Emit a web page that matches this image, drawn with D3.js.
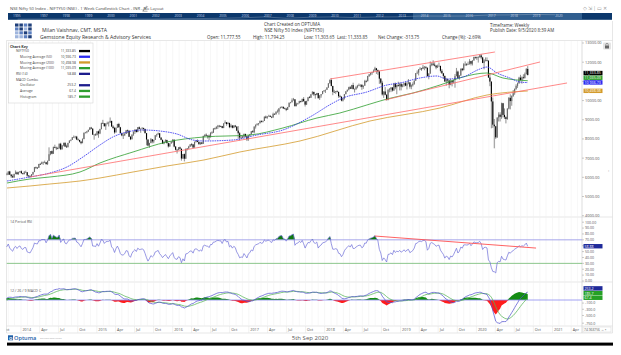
<!DOCTYPE html>
<html><head><meta charset="utf-8">
<script src="https://cdn.jsdelivr.net/npm/d3@7"></script>
<style>
html,body{margin:0;padding:0;background:#fff;}
svg{display:block;font-family:"Open Sans","Noto Sans",sans-serif;}
</style></head><body>
<svg id="c" width="621" height="355"></svg>
<script>
// ---------------- DATA ----------------
const lastWeek = "2020-09-04";
// weekly closes, Jun 2013 .. 4 Sep 2020 (open = previous close)
const closes = [
5881,5808,5667,5842,5868,6009,6029,5886,5677,5566,5508,5471,5472,5680,5851,5889,5833,5907,6096,6189,6145,6307,6141,6056,5996,6176,6260,6168,6274,6314,
6211,6171,6262,6266,6090,6063,6048,6155,6277,6527,6504,6494,6696,6695,6776,6779,6782,6694,6859,7203,7367,7230,7583,7542,7511,7509,7751,7459,7664,7790,7602,7568,7792,7913,7954,8087,8105,8121,7969,7945,7860,7780,7991,8322,8337,8390,8477,8588,8538,8224,8225,8200,
8395,8285,8513,8836,8809,8661,8805,8834,8844,8938,8647,8571,8342,8586,8780,8607,8305,8182,8191,8263,8458,8434,8114,7982,8225,8381,8485,8361,8610,8522,8533,8565,8518,8300,7971,7655,7789,7982,7868,7951,8190,8238,8295,8066,7955,7762,7857,7943,7782,7610,7762,7861,
7963,7601,7438,7423,7564,7489,6981,7211,6971,7486,7511,7605,7716,7714,7555,7851,7899,7850,7733,7815,7750,8157,8221,8171,8170,8089,8328,8324,8542,8541,8639,8684,8672,8667,8573,8810,8867,8780,8832,8612,8698,8584,8694,8639,8434,8297,8075,8114,8087,8262,8140,7986,8186,
8244,8400,8349,8641,8741,8794,8822,8940,8898,8935,9160,9108,9174,9198,9150,9119,9304,9285,9401,9428,9595,9653,9669,9588,9575,9521,9665,9886,9915,10015,10066,9711,9837,9858,9975,9935,10086,9964,9789,9980,10167,10147,10323,10452,10322,10284,10390,10122,10266,10333,10493,10531,
10559,10682,10895,11070,10761,10455,10452,10491,10458,10227,10195,9998,10114,10332,10481,10565,10692,10618,10807,10597,10605,10697,10768,10818,10822,10714,10773,11019,11010,11278,11361,11430,11471,11557,11681,11590,11515,11143,10930,10316,10473,10303,10030,10553,10585,10682,10527,10877,10694,10805,10754,10860,
10727,10795,10907,10780,10894,10944,10724,10792,10864,11035,11427,11457,11624,11666,11643,11753,11755,11712,11279,11407,11844,11923,11871,11823,11724,11789,11811,11552,11419,11284,10997,11110,11048,10829,11023,10947,11076,11274,11512,11175,11305,11662,11584,11891,11908,11895,11914,12056,11922,12087,12272,12246,
12227,12257,12352,12248,11962,12098,12113,12081,11202,10989,9955,8745,8660,8084,9112,9267,9154,9860,9252,9137,9039,9580,10142,9973,10244,10383,10608,10768,10902,11194,11073,11214,11178,11372,11648,11334
];
const highs = [
5960,5930,5880,5860,5920,6020,6093,6040,5890,5700,5620,5520,5500,5700,5880,6142,5930,5950,6110,6210,6250,6310,6340,6170,6150,6190,6360,6300,6290,6330,
6358,6230,6330,6350,6270,6120,6110,6170,6290,6540,6560,6520,6700,6750,6820,6820,6870,6800,6870,7563,7370,7400,7600,7700,7600,7590,7760,7800,7680,7810,7840,7700,7800,7930,7970,8100,8180,8160,8160,8030,7960,7890,8030,8330,8370,8420,8480,8620,8630,8550,8260,8290,
8410,8440,8530,8840,8996,8830,8820,8900,8900,9119,8950,8720,8630,8600,8790,8840,8630,8330,8290,8350,8470,8490,8440,8150,8240,8390,8500,8490,8620,8650,8550,8620,8590,8540,8310,7980,7800,8050,7990,7960,8200,8270,8336,8300,8100,7960,7880,7980,7960,7800,7770,7880,
7990,7970,7630,7480,7570,7600,7500,7220,7240,7500,7530,7640,7730,7780,7740,7860,7940,7980,7860,7830,7840,8170,8230,8290,8190,8230,8340,8400,8560,8590,8650,8730,8730,8700,8680,8820,8968,8880,8890,8850,8790,8720,8720,8730,8670,8670,8360,8180,8150,8280,8270,8150,8190,
8260,8410,8460,8660,8750,8810,8830,8960,8960,8960,9170,9220,9190,9260,9250,9180,9370,9340,9450,9530,9600,9680,9710,9700,9640,9620,9670,9900,9930,10115,10138,10070,9890,9880,9990,9990,10100,10180,9970,9990,10190,10240,10340,10490,10460,10350,10400,10400,10280,10340,10500,10540,
10570,10690,10910,11110,11171,10770,10560,10500,10530,10450,10300,10230,10130,10340,10490,10570,10720,10760,10820,10930,10630,10770,10820,10890,10840,10850,10790,11080,11080,11290,11390,11460,11490,11620,11760,11700,11620,11550,11170,11030,10480,10700,10330,10610,10650,10700,10700,10920,10940,10840,10980,10930,
10930,10870,10930,10990,10980,11120,10960,10840,10950,11060,11430,11570,11640,11740,11700,11856,11800,11790,11720,11430,12041,11970,12100,11990,11860,11870,11980,11800,11640,11440,11300,11180,11140,11070,11140,11070,11090,11380,11700,11560,11330,11670,11700,11950,12040,11950,12030,12160,12070,12100,12290,12290,
12290,12310,12390,12430,12280,12160,12250,12250,12090,11430,11000,10160,9040,8680,9130,9390,9390,9890,9880,9590,9180,9600,10180,10330,10270,10550,10630,10850,10940,11240,11340,11260,11370,11460,11690,11794
];
const lows = [
5860,5770,5566,5600,5780,5850,5960,5860,5640,5480,5480,5360,5120,5360,5650,5800,5760,5700,5880,6030,6100,6120,6120,5970,5980,5970,6160,6130,6130,6230,
6190,6140,6150,6240,6030,5990,5990,6040,6120,6270,6430,6430,6490,6650,6680,6650,6740,6650,6640,6850,7150,7200,7220,7520,7420,7460,7500,7420,7450,7620,7590,7540,7560,7780,7880,7950,8050,8020,7940,7920,7820,7720,7780,7990,8290,8290,8360,8460,8510,8210,7960,8170,
8190,8060,8250,8500,8780,8650,8470,8760,8650,8860,8630,8510,8270,8330,8580,8590,8290,8140,7997,8150,8260,8300,8100,7940,7980,8160,8260,8330,8350,8510,8320,8500,8400,8290,7667,7630,7540,7770,7770,7780,7950,8110,8220,8060,7930,7740,7720,7840,7770,7550,7590,7760,
7800,7560,7400,7240,7410,7440,6870,6960,6830,6960,7400,7470,7580,7620,7520,7550,7810,7830,7690,7690,7720,7740,8100,8150,8020,7930,8080,8290,8320,8490,8510,8520,8600,8620,8550,8560,8800,8690,8760,8560,8600,8550,8560,8600,8410,8010,7920,7990,8060,8080,8100,7890,7900,
8130,8230,8340,8290,8540,8700,8700,8800,8860,8860,8940,9060,9050,9180,9140,9080,9110,9270,9270,9370,9270,9590,9610,9570,9550,9450,9510,9650,9850,9900,10000,9685,9700,9780,9860,9890,9920,9960,9690,9770,9960,10120,10140,10320,10240,10100,10290,10110,10030,10150,10340,10440,
10400,10560,10660,10890,10740,10280,10390,10350,10420,10140,10150,9960,9950,10050,10330,10460,10530,10600,10600,10580,10420,10550,10640,10750,10700,10560,10610,10770,10940,11000,11230,11300,11340,11470,11560,11390,11340,10870,10850,10260,10140,10270,10000,10010,10430,10440,10470,10500,10590,10330,10730,10530,
10530,10690,10720,10750,10580,10850,10620,10590,10730,10820,11030,11380,11310,11590,11550,11640,11580,11650,11250,11110,11400,11790,11800,11780,11630,11700,11760,11460,11400,11150,10970,10780,10900,10640,10800,10740,10900,10670,11270,11160,11090,11290,11530,11580,11800,11800,11850,11870,11830,11830,12080,12180,
12120,11980,12240,12150,11950,11630,12040,12040,11180,10750,8555,8575,7511,8000,8050,8910,8910,9050,9120,9040,8810,9000,9540,9540,9730,10190,10300,10560,10660,10870,11030,10880,11110,11140,11370,11304
];

// moving averages
const ma50Dates = ["2013-10-26","2014-02-13","2014-05-20","2014-08-10","2014-10-26","2015-01-16","2015-03-19","2015-05-26","2015-08-11","2015-10-31","2016-01-21","2016-04-07","2016-05-30","2016-10-17","2017-02-09","2017-06-14","2017-10-22","2018-02-10","2018-03-30","2018-07-23","2018-10-28","2018-12-30","2019-04-04","2019-06-25","2019-08-12","2019-10-28","2020-01-18","2020-02-21","2020-04-09","2020-06-10","2020-07-28","2020-09-04"];
const ma50Values = [5809,6017,6226,6538,7059,7685,8102,8362,8466,8414,8258,7945,7893,7945,8206,8466,9144,9873,10134,10447,10811,10916,11176,11280,11120,11228,11645,11749,11437,11176,10968,10937];
const ma100Dates = ["2013-10-26","2014-02-13","2014-05-20","2014-10-12","2015-01-16","2015-06-24","2015-12-04","2016-05-30","2017-01-07","2017-06-14","2017-11-25","2018-03-15","2018-07-23","2018-10-28","2019-03-02","2019-07-10","2019-10-28","2020-02-21","2020-05-08","2020-09-04"];
const ma100Values = [5704,5913,6017,6278,6747,7320,7841,8102,8206,8571,9092,9352,9769,10082,10394,10811,11228,11437,11176,11035];
const ma200Dates = ["2013-10-26","2014-02-13","2014-05-20","2014-10-12","2015-01-16","2015-06-24","2015-12-04","2016-05-30","2016-11-19","2017-09-04","2018-08-07","2019-07-10","2020-02-21","2020-09-04"];
const ma200Values = [5444,5548,5652,5809,5965,6278,6590,6903,7320,7893,8935,9613,10290,10499];

// drawn trend lines
const trendDates = [["2014-02-13","2021-03-12"],["2018-10-18","2020-11-02"],["2018-01-27","2020-03-30"]];
const trendValues = [[6017,10916],[10030,12010],[11124,12531]];
const rsiTrendDates = ["2018-08-30","2020-10-14"];
const rsiTrendValues = [76.5,56];

// legend / header texts
const keyNames = ["NIFTY50","Moving Average (50)","Moving Average (200)","Moving Average (100)","RSI (14)","MACD Combo","Oscillator","Average","Histogram"];
const keyValues = ["11,333.85","10,936.73","10,498.98","11,035.09","58.88","","253.2","67.4","185.7"];
const keyNums = [11333.85,10936.73,10498.98,11035.09,58.88,null,253.2,67.4,185.7];
const stats = ["Open: 11,777.55","High: 11,794.25","Low: 11,303.65","Last: 11,333.85","Net Change: -313.75","Change (%): -2.69%"];
const priceTicks = [4000,5000,6000,7000,8000,9000,10000,11000,12000,13000];
const rsiTicks = [0,10,20,30,40,50,60,70,80,90,100];
const macdTicks = [-100,-300,-500,-750];
const navYears = [1995,1997,1998,1999,2000,2001,2002,2003,2004,2005,2006,2007,2008,2009,2010,2011,2012,2013,2014,2015,2016,2017,2018,2019,2020];
const navSeriesYears = [1996,1997,1998,1999,2000,2001,2002,2003,2004,2005,2006,2007,2008,2009,2010,2011,2012,2013,2014,2015,2016,2017,2018,2019,2020];
const navSeriesValues = [899,1079,884,1480,1263,1059,1093,1879,2080,2836,3966,6138,2959,5201,6134,4624,5905,6304,8282,7946,8186,10531,10863,12168,11334];

// ---------------- STYLE ----------------
const col = {blue:"#2b2bf0", green:"#2f9e2f", gold:"#d39b2c", red:"#ff6b6b", navy:"#1c1c8c",
  rsi:"#6d6dd8", ob:"#9b9be8", os:"#7fbf7f", macd:"#5656d2", sig:"#55b455", zero:"#8c8cf0",
  hpos:"#148c14", hneg:"#ff1c1c", txt:"#555"};
const keyColors = ["#000",col.blue,col.gold,col.green,col.navy,null,col.navy,col.green,col.green];
const keyLevel = [1,2,2,2,1,1,2,2,2];

const svg = d3.select("#c");
const parse = d3.utcParse("%Y-%m-%d");
const L = 6.5, R = 582;
const x = d3.scaleUtc().domain([Date.UTC(2013,9,21), Date.UTC(2021,4,23)]).range([6, R]);
const yP = d3.scaleLinear().domain([4000,13000]).range([215.7,43]);
const yR = d3.scaleLinear().domain([0,100]).range([281,222.2]);
const yM = d3.scaleLinear().domain([-750,0]).range([323.2,300]);

function txt(g, px, py, s, size, fill, anchor, weight){
  return g.append("text").attr("x",px).attr("y",py).text(s).attr("font-size",size)
    .attr("fill",fill||col.txt).attr("text-anchor",anchor||"start").attr("font-weight",weight||400);
}
const defs = svg.append("defs");
function clip(id, x0,y0,x1,y1){ defs.append("clipPath").attr("id",id).append("rect").attr("x",x0).attr("y",y0).attr("width",x1-x0).attr("height",y1-y0); }
clip("cm", L,40.5,R,217); clip("cr", L,217,R,282); clip("cd", L,282,R,326); clip("cx", L,326,R,333);

// ---------------- HEADER ----------------
txt(svg,10,10.2,"NSE Nifty 50 Index - NIFTY50 (NSE) - 1 Week Candlestick Chart - INR - No Layout",4.2,"#444");
svg.append("path").attr("d","M143,10.5 l1,-0.3 l3.5,-3.5 l-0.7,-0.7 l-3.5,3.5 z M142.5,11.2 h5").attr("stroke","#555").attr("stroke-width",0.5).attr("fill","none");
txt(svg,583,10,"◇  ⇲  |  ▭  ✕",4.5,"#999");
svg.append("rect").attr("x",8).attr("y",13).attr("width",604).attr("height",6.8).attr("fill","#0c386c");
svg.append("rect").attr("x",413).attr("y",13).attr("width",169).attr("height",6.8).attr("fill","#3a6899").attr("opacity",0.8);
const nx = yr => 40 + (yr-1997)*22.4;
navYears.forEach((yr,i)=>{ const px = i===0?13:nx(yr); txt(svg,px,16.7,String(yr),3.3,"#c9d6ea"); });
const navY = d3.scaleLinear().domain([0,13000]).range([19.5,14]);
svg.append("path").datum(navSeriesYears.map((yr,i)=>[nx(yr), navY(navSeriesValues[i])]))
  .attr("d",d3.line()).attr("fill","none").attr("stroke","rgba(255,255,255,0.45)").attr("stroke-width",0.5);

// logo
const logoC = ["#1f3f7a","#5b7fc0","#9fb5dd"];
const logoP = [[0,0,1,0],[1,0,2,0],[2,1,0,1],[2,2,1,0]];
logoP.forEach((row,r)=>row.forEach((k,cI)=>svg.append("rect").attr("x",15+cI*4.4).attr("y",23.5+r*3.9).attr("width",3.5).attr("height",3.1).attr("fill",logoC[k])));
txt(svg,42,32.2,"Milan Vaishnav, CMT, MSTA",5.1,"#333");
txt(svg,40,39.3,"Gemstone Equity Research & Advisory Services",5.1,"#333");
txt(svg,292,25.8,"Chart Created on OPTUMA",4.5,"#333","middle");
txt(svg,294,32,"NSE Nifty 50 Index (NIFTY50)",4.5,"#333","middle");
const statX = [207,253,304,337,378,442];
stats.forEach((s,i)=>txt(svg,statX[i],39.3,s,4.4,"#333"));
txt(svg,490,26.5,"Timeframe: Weekly",4.4,"#333");
txt(svg,490,32.3,"Publish Date: 9/5/2020 8:39 AM",4.4,"#333");

// ---------------- FRAME & GRID ----------------
const frame = svg.append("g").attr("stroke","#d6d6d6").attr("stroke-width",0.6);
[40.5,217,282,326,333].forEach(yy=>frame.append("line").attr("x1",L).attr("x2",612.5).attr("y1",yy).attr("y2",yy));
frame.append("line").attr("x1",L).attr("x2",L).attr("y1",40.5).attr("y2",333);
frame.append("line").attr("x1",612.5).attr("x2",612.5).attr("y1",21).attr("y2",333);
frame.append("line").attr("x1",R).attr("x2",R).attr("y1",40.5).attr("y2",333).attr("stroke","#c8c8c8");

const months = d3.utcMonth.range(x.domain()[0], x.domain()[1]);
const grid = svg.append("g").attr("stroke","#eeeeee").attr("stroke-width",0.5);
[[40.5,217],[217,282],[282,326]].forEach(([a,b])=>{
  grid.selectAll(null).data(months).join("line").attr("x1",d=>x(d)).attr("x2",d=>x(d)).attr("y1",a+0.5).attr("y2",b-0.5);
});

// ---------------- MAIN PANEL ----------------
const n = closes.length;
const endT = parse(lastWeek).getTime();
const dates = closes.map((_,i)=>new Date(endT-(n-1-i)*7*86400000));
const bars = closes.map((c,i)=>({d:dates[i], o:i?closes[i-1]:c, c, h:highs[i], l:lows[i]}));
const gm = svg.append("g").attr("clip-path","url(#cm)");
gm.selectAll("line.w").data(bars).join("line").attr("class","w")
  .attr("x1",d=>x(d.d)).attr("x2",d=>x(d.d)).attr("y1",d=>yP(d.h)).attr("y2",d=>yP(d.l))
  .attr("stroke","#333").attr("stroke-width",0.55);
gm.selectAll("rect.b").data(bars).join("rect").attr("class","b")
  .attr("x",d=>x(d.d)-0.55).attr("width",1.1)
  .attr("y",d=>yP(Math.max(d.o,d.c))).attr("height",d=>Math.max(0.6,Math.abs(yP(d.o)-yP(d.c))))
  .attr("fill",d=>d.c>=d.o?"#6a6a6a":"#000");

const lineF = d3.line().x(d=>x(d[0])).y(d=>yP(d[1])).curve(d3.curveMonotoneX);
function maLine(ds,vs,color,dash){
  gm.append("path").datum(ds.map((s,i)=>[parse(s),vs[i]])).attr("d",lineF)
    .attr("fill","none").attr("stroke",color).attr("stroke-width",0.8).attr("stroke-dasharray",dash||null);
}
maLine(ma200Dates,ma200Values,col.gold);
maLine(ma100Dates,ma100Values,col.green);
maLine(ma50Dates,ma50Values,col.blue,"1.6,0.8");
trendDates.forEach((td,i)=>{
  gm.append("line").attr("x1",x(parse(td[0]))).attr("y1",yP(trendValues[i][0]))
    .attr("x2",x(parse(td[1]))).attr("y2",yP(trendValues[i][1]))
    .attr("stroke",col.red).attr("stroke-width",0.8);
});

// ---------------- RSI PANEL ----------------
const rsi = new Array(n).fill(null);
{ let ag=0, al=0;
  for(let i=1;i<=14;i++){ const ch=closes[i]-closes[i-1]; if(ch>0) ag+=ch; else al-=ch; }
  ag/=14; al/=14; rsi[14]=100-100/(1+ag/al);
  for(let i=15;i<n;i++){ const ch=closes[i]-closes[i-1];
    ag=(ag*13+Math.max(ch,0))/14; al=(al*13+Math.max(-ch,0))/14;
    rsi[i]= al===0?100:100-100/(1+ag/al); } }
const rsiPts = rsi.map((v,i)=>({d:dates[i],v})).filter(p=>p.v!==null);
const gr = svg.append("g").attr("clip-path","url(#cr)");
gr.append("path").datum(rsiPts).attr("d",d3.area().x(p=>x(p.d)).y0(yR(70)).y1(p=>yR(Math.max(70,p.v))))
  .attr("fill","#0e7a0e");
gr.append("line").attr("x1",L).attr("x2",R).attr("y1",yR(70)).attr("y2",yR(70)).attr("stroke",col.ob).attr("stroke-width",0.9);
gr.append("line").attr("x1",L).attr("x2",R).attr("y1",yR(30)).attr("y2",yR(30)).attr("stroke",col.os).attr("stroke-width",0.9);
gr.append("path").datum(rsiPts).attr("d",d3.line().x(p=>x(p.d)).y(p=>yR(p.v)))
  .attr("fill","none").attr("stroke",col.rsi).attr("stroke-width",0.7);
gr.append("line").attr("x1",x(parse(rsiTrendDates[0]))).attr("y1",yR(rsiTrendValues[0]))
  .attr("x2",x(parse(rsiTrendDates[1]))).attr("y2",yR(rsiTrendValues[1])).attr("stroke","#ff5050").attr("stroke-width",0.9);
txt(svg,10,222.5,"14 Period RSI",3.6,"#555");

// ---------------- MACD PANEL ----------------
const ema=(arr,p)=>{const k=2/(p+1); const out=[]; arr.forEach((v,i)=>out.push(i?v*k+out[i-1]*(1-k):v)); return out;};
const e12=ema(closes,12), e26=ema(closes,26);
const macd=e12.map((v,i)=>v-e26[i]);
const sig=ema(macd,9);
const mPts = macd.map((v,i)=>({d:dates[i], m:v, s:sig[i], h:v-sig[i]}));
const gd = svg.append("g").attr("clip-path","url(#cd)");
gd.append("path").datum(mPts).attr("d",d3.area().x(p=>x(p.d)).y0(yM(0)).y1(p=>yM(Math.max(0,p.h)))).attr("fill",col.hpos);
gd.append("path").datum(mPts).attr("d",d3.area().x(p=>x(p.d)).y0(yM(0)).y1(p=>yM(Math.min(0,p.h)))).attr("fill",col.hneg);
gd.append("line").attr("x1",L).attr("x2",R).attr("y1",yM(0)).attr("y2",yM(0)).attr("stroke",col.zero).attr("stroke-width",0.8);
gd.append("path").datum(mPts).attr("d",d3.line().x(p=>x(p.d)).y(p=>yM(p.s))).attr("fill","none").attr("stroke",col.sig).attr("stroke-width",0.75);
gd.append("path").datum(mPts).attr("d",d3.line().x(p=>x(p.d)).y(p=>yM(p.m))).attr("fill","none").attr("stroke",col.macd).attr("stroke-width",0.75);
txt(svg,10,291.5,"12 / 26 / 9 MACD C",3.6,"#555");

// ---------------- AXES ----------------
const ax = svg.append("g");
priceTicks.forEach(v=>{ ax.append("line").attr("x1",R).attr("x2",R+2).attr("y1",yP(v)).attr("y2",yP(v)).attr("stroke","#999").attr("stroke-width",0.5);
  txt(ax,R+3,yP(v)+1.4,v.toFixed(2),3.9,"#555"); });
rsiTicks.forEach(v=>{ ax.append("line").attr("x1",R).attr("x2",R+2).attr("y1",yR(v)).attr("y2",yR(v)).attr("stroke","#999").attr("stroke-width",0.5);
  txt(ax,R+3,yR(v)+1.3,v.toFixed(2),3.6,"#555"); });
macdTicks.forEach(v=>{ ax.append("line").attr("x1",R).attr("x2",R+2).attr("y1",yM(v)).attr("y2",yM(v)).attr("stroke","#999").attr("stroke-width",0.5);
  txt(ax,R+3,yM(v)+1.3,v.toFixed(1),3.6,"#555"); });

function boxes(items, scale){
  const bh = 4.7;
  const arr = items.map(it=>({...it, y:scale(it.v)})).sort((a,b)=>b.y-a.y);
  for(let i=1;i<arr.length;i++) arr[i].y=Math.min(arr[i].y, arr[i-1].y-bh);
  arr.forEach(b=>{ ax.append("rect").attr("x",R+1.5).attr("y",b.y-bh/2).attr("width",19).attr("height",bh-0.3).attr("fill",b.c);
    txt(ax,R+2.5,b.y+1.3,b.t,3.6,"#fff"); });
}
boxes([0,3,1,2].map(i=>({v:keyNums[i],t:keyValues[i],c:keyColors[i]})), yP);
boxes([4].map(i=>({v:keyNums[i],t:keyValues[i],c:"#1f2a9a"})), yR);
boxes([{i:6,c:"#1f2a9a"},{i:8,c:"#26a026"},{i:7,c:"#26a026"}].map(o=>({v:keyNums[o.i],t:keyValues[o.i],c:o.c})), yM);

// lock + side icon
svg.append("rect").attr("x",603).attr("y",42.5).attr("width",8).attr("height",7).attr("rx",1).attr("fill","#e4e4e4");
svg.append("rect").attr("x",605).attr("y",45.5).attr("width",4).attr("height",3).attr("fill","#666");
svg.append("path").attr("d","M605.8,45.5 v-1 a1.2,1.2 0 0 1 2.4,0 v1").attr("stroke","#666").attr("stroke-width",0.6).attr("fill","none");
txt(svg,608,172,"‹",4,"#888");

// x axis (quarters)
const gx = svg.append("g").attr("clip-path","url(#cx)");
const quarters = d3.utcMonth.every(3).range(Date.UTC(2013,9,1), Date.UTC(2021,6,1));
const mName = {0:null,3:"Apr",6:"Jul",9:"Oct"};
quarters.forEach(q=>{
  const px = x(q);
  gx.append("line").attr("x1",px).attr("x2",px).attr("y1",326).attr("y2",333).attr("stroke","#e2e2e2").attr("stroke-width",0.5);
  txt(gx,px+1.5,330.6,q.getUTCMonth()===0?String(q.getUTCFullYear()):mName[q.getUTCMonth()],3.8,"#555");
});
svg.append("rect").attr("x",583).attr("y",327).attr("width",28).attr("height",5).attr("fill","#fff").attr("stroke","#ccc").attr("stroke-width",0.4);
txt(svg,584,330.8,"74.968756 ⇔ ▪",3.3,"#555");

// ---------------- CHART KEY ----------------
const gk = svg.append("g");
gk.append("rect").attr("x",8.5).attr("y",43).attr("width",84.5).attr("height",60).attr("fill","#fff").attr("stroke","#cfcfcf").attr("stroke-width",0.5);
txt(gk,10,48.2,"Chart Key",3.7,"#333","start",700);
keyNames.forEach((nm,i)=>{
  const yy = 51 + i*5.7;
  txt(gk,keyLevel[i]===1?16:20,yy+1.2,nm,3.4,"#444");
  if(keyValues[i]) txt(gk,76,yy+1.2,keyValues[i],3.4,"#444","end");
  if(keyColors[i]) gk.append("rect").attr("x",79).attr("y",yy-1.1).attr("width",11).attr("height",2.3).attr("fill",keyColors[i]);
});

// ---------------- FOOTER ----------------
svg.append("rect").attr("x",8).attr("y",335.3).attr("width",5).attr("height",5).attr("fill","#1d5fa8");
txt(svg,8.9,339.6,"O",4.2,"#fff","start",700);
txt(svg,14,339.8,"Optuma",5.6,"#1d5fa8","start",600);
txt(svg,40,339,"optuma.com/terms",2.4,"#aaa");
txt(svg,310,340.2,"5th Sep 2020",6,"#555","middle");
svg.append("rect").attr("x",7).attr("y",342.6).attr("width",606).attr("height",3).attr("fill","#000");
</script>
</body></html>
